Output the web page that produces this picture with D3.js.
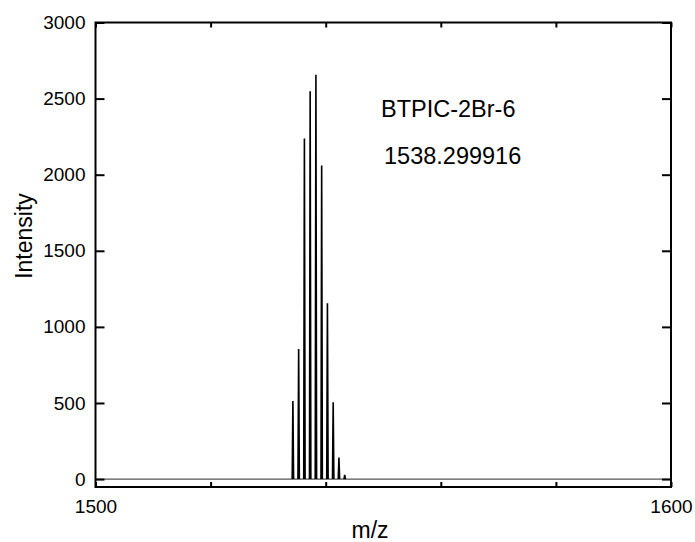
<!DOCTYPE html>
<html>
<head>
<meta charset="utf-8">
<script src="https://cdn.jsdelivr.net/npm/d3@7"></script>
<style>
  body { margin: 0; background: #fff; }
  svg { display: block; font-family: "Liberation Sans", Arial, sans-serif; }
</style>
</head>
<body>
<div id="chart"></div>
<script>
// Peak list
const peakMz = [1534.3, 1535.3, 1536.3, 1537.3, 1538.3, 1539.3, 1540.3, 1541.3, 1542.3, 1543.3];
const peakIntensity = [513, 855, 2237, 2548, 2656, 2060, 1155, 504, 142, 28];

const xTicks = [1500, 1520, 1540, 1560, 1580, 1600];
const xLabels = [1500, 1600];
const yTicks = [0, 500, 1000, 1500, 2000, 2500, 3000];

const compoundName = "BTPIC-2Br-6";
const exactMass = "1538.299916";

const width = 695, height = 542;
const margin = { top: 22.5, right: 24, bottom: 55, left: 95.5 };
const innerW = width - margin.left - margin.right;
const innerH = height - margin.top - margin.bottom;

const svg = d3.select("#chart").append("svg")
  .attr("width", width)
  .attr("height", height);

const g = svg.append("g").attr("transform", `translate(${margin.left},${margin.top})`);

const x = d3.scaleLinear().domain([1500, 1600]).range([0, innerW]);
const y = d3.scaleLinear().domain([-52, 3000]).range([innerH, 0]);

// Spectrum trace: flat baseline with narrow peaks
const halfW = 0.12;
const baseline = [[1500, 0], [1600, 0]];
const peakPts = [];
peakMz.forEach((m, i) => {
  peakPts.push([[m - halfW, 0], [m, peakIntensity[i]], [m + halfW, 0]]);
});

const line = d3.line().x(d => x(d[0])).y(d => y(d[1]));

g.append("path")
  .datum(baseline)
  .attr("d", line)
  .attr("fill", "none")
  .attr("stroke", "#555")
  .attr("stroke-width", 1.1);

g.selectAll("path.peak")
  .data(peakPts)
  .enter().append("path")
  .attr("class", "peak")
  .attr("d", line)
  .attr("fill", "none")
  .attr("stroke", "#000")
  .attr("stroke-width", 1.6)
  .attr("stroke-linejoin", "bevel");

// Axes, ticks pointing inward
const fmt = d => xLabels.includes(d) ? d : "";

const xBottom = g.append("g")
  .attr("transform", `translate(0,${innerH})`)
  .call(d3.axisBottom(x).tickValues(xTicks).tickSizeInner(-5).tickSizeOuter(0).tickPadding(13).tickFormat(fmt));

const xTop = g.append("g")
  .call(d3.axisTop(x).tickValues(xTicks).tickSizeInner(-5).tickSizeOuter(0).tickFormat(""));

const yLeft = g.append("g")
  .call(d3.axisLeft(y).tickValues(yTicks).tickSizeInner(-9).tickSizeOuter(0).tickPadding(10).tickFormat(d3.format("d")));

const yRight = g.append("g")
  .attr("transform", `translate(${innerW},0)`)
  .call(d3.axisRight(y).tickValues(yTicks).tickSizeInner(-9).tickSizeOuter(0).tickFormat(""));

[xBottom, xTop, yLeft, yRight].forEach(a => {
  a.select(".domain").remove();
  a.selectAll(".tick line").attr("stroke", "#000").attr("stroke-width", 2);
  a.selectAll(".tick text")
    .attr("fill", "#000")
    .style("font-size", "19px")
    .style("font-family", "Liberation Sans, Arial, sans-serif");
});

// frame
g.append("rect")
  .attr("width", innerW)
  .attr("height", innerH)
  .attr("fill", "none")
  .attr("stroke", "#000")
  .attr("stroke-width", 2);

// axis titles
svg.append("text")
  .attr("x", 370)
  .attr("y", 537.5)
  .attr("text-anchor", "middle")
  .style("font-size", "23px")
  .text("m/z");

svg.append("text")
  .attr("transform", "translate(32,236) rotate(-90)")
  .attr("text-anchor", "middle")
  .style("font-size", "23px")
  .text("Intensity");

// annotation
g.append("text")
  .attr("x", 381 - margin.left)
  .attr("y", 116.7 - margin.top)
  .style("font-size", "23.5px")
  .text(compoundName);

g.append("text")
  .attr("x", 384 - margin.left)
  .attr("y", 164 - margin.top)
  .style("font-size", "23.5px")
  .text(exactMass);
</script>
</body>
</html>
